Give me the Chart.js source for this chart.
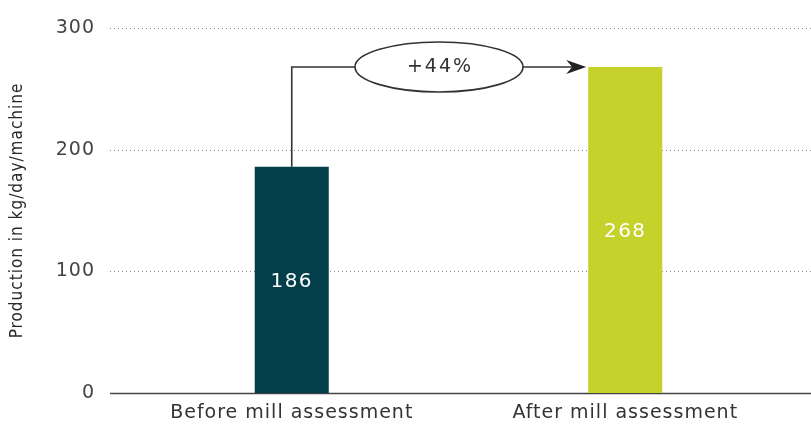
<!DOCTYPE html>
<html lang="en">
<head>
  <meta charset="UTF-8" />
  <title>Production before and after mill assessment</title>
  <script src="https://cdn.jsdelivr.net/npm/chart.js"></script>
  <style>
    html, body {
      margin: 0;
      padding: 0;
      background: #fff;
    }
    #wrap {
      width: 811px;
      height: 425px;
    }
  </style>
</head>
<body>
<div id="wrap"><canvas id="chart-production"></canvas></div>

<script>
  // data
  const categories = ["Before mill assessment", "After mill assessment"];
  const production = [186, 268];
  const barColors = ["#023f4a", "#c5d22c"];
  const yTicks = [0, 100, 200, 300];
  const changeLabel = "+44%";
  const yTitle = "Production in kg/day/machine";

  const FONT = "'DejaVu Sans', sans-serif";

  // slightly tracked-out lettering for all the canvas text
  const tracking = {
    id: "tracking",
    beforeDraw(chart) { chart.ctx.letterSpacing = "1px"; },
    afterDraw(chart) { chart.ctx.letterSpacing = "0px"; }
  };

  // dotted grid + solid base line, running a bit past the plot on both sides
  const gridLines = {
    id: "gridLines",
    beforeDatasetsDraw(chart) {
      const { ctx, chartArea, scales } = chart;
      const x0 = chartArea.left - 15;
      const x1 = chart.width;
      ctx.save();
      yTicks.forEach(v => {
        const y = Math.round(scales.y.getPixelForValue(v)) + 0.5;
        ctx.beginPath();
        if (v === 0) {
          ctx.setLineDash([]);
          ctx.strokeStyle = "#444";
          ctx.lineWidth = 1.5;
        } else {
          ctx.setLineDash([1, 3]);
          ctx.strokeStyle = "#8a8a8a";
          ctx.lineWidth = 1;
        }
        ctx.moveTo(x0, y);
        ctx.lineTo(x1, y);
        ctx.stroke();
      });
      ctx.restore();
    }
  };

  // value inside each bar + the "+44%" connector between the two bars
  const annotations = {
    id: "annotations",
    afterDatasetsDraw(chart) {
      const { ctx } = chart;
      const bars = chart.getDatasetMeta(0).data;
      ctx.save();

      ctx.fillStyle = "#fff";
      ctx.font = "20px " + FONT;
      ctx.letterSpacing = "1.5px";
      ctx.textAlign = "center";
      ctx.textBaseline = "middle";
      bars.forEach((bar, i) => {
        ctx.fillText(String(production[i]), bar.x, (bar.y + bar.base) / 2 + 2);
      });

      const b1 = bars[0], b2 = bars[1];
      const startX = b1.x;
      const endX = b2.x - b2.width / 2 - 2;
      const lineY = b2.y;
      const cx = (startX + endX) / 2;
      const rx = 84, ry = 25;

      ctx.strokeStyle = "#333";
      ctx.lineWidth = 1.6;
      ctx.beginPath();
      ctx.moveTo(startX, b1.y);
      ctx.lineTo(startX, lineY);
      ctx.lineTo(cx - rx, lineY);
      ctx.moveTo(cx + rx, lineY);
      ctx.lineTo(endX - 14, lineY);
      ctx.stroke();

      ctx.beginPath();
      ctx.ellipse(cx, lineY, rx, ry, 0, 0, Math.PI * 2);
      ctx.fillStyle = "#fff";
      ctx.fill();
      ctx.stroke();

      // arrow head
      ctx.fillStyle = "#222";
      ctx.beginPath();
      ctx.moveTo(endX, lineY);
      ctx.lineTo(endX - 20, lineY - 7);
      ctx.lineTo(endX - 14, lineY);
      ctx.lineTo(endX - 20, lineY + 7);
      ctx.closePath();
      ctx.fill();

      ctx.fillStyle = "#333";
      ctx.font = "19px " + FONT;
      ctx.letterSpacing = "2px";
      ctx.fillText(changeLabel, cx + 1, lineY);

      ctx.restore();
    }
  };

  new Chart(document.getElementById("chart-production"), {
    type: "bar",
    data: {
      labels: categories,
      datasets: [{
        data: production,
        backgroundColor: barColors,
        barPercentage: 0.222,
        categoryPercentage: 1
      }]
    },
    options: {
      responsive: true,
      maintainAspectRatio: false,
      animation: false,
      layout: { padding: { top: 28, right: 19, left: 0, bottom: 0 } },
      plugins: {
        legend: { display: false },
        tooltip: { enabled: false }
      },
      scales: {
        x: {
          grid: { display: false, drawTicks: false },
          border: { display: false },
          ticks: {
            color: "#333",
            padding: 9,
            font: { family: FONT, size: 19 }
          },
          afterFit(scale) {
            scale.height = 32;
            scale.paddingLeft = 0;
            scale.paddingRight = 0;
          }
        },
        y: {
          min: 0,
          max: 300,
          afterBuildTicks(scale) { scale.ticks = yTicks.map(v => ({ value: v })); },
          grid: { display: false, drawTicks: false },
          border: { display: false },
          ticks: {
            color: "#444",
            padding: 30,
            font: { family: FONT, size: 19 }
          },
          title: {
            display: true,
            text: yTitle,
            color: "#2a2a2a",
            padding: { top: 7, bottom: 0 },
            font: { family: "'DejaVu Sans Condensed', 'Liberation Sans Narrow', sans-serif", size: 17 }
          },
          afterFit(scale) {
            scale.width = 125;
            scale.paddingTop = 0;
            scale.paddingBottom = 0;
          }
        }
      }
    },
    plugins: [tracking, gridLines, annotations]
  });
</script>
</body>
</html>
